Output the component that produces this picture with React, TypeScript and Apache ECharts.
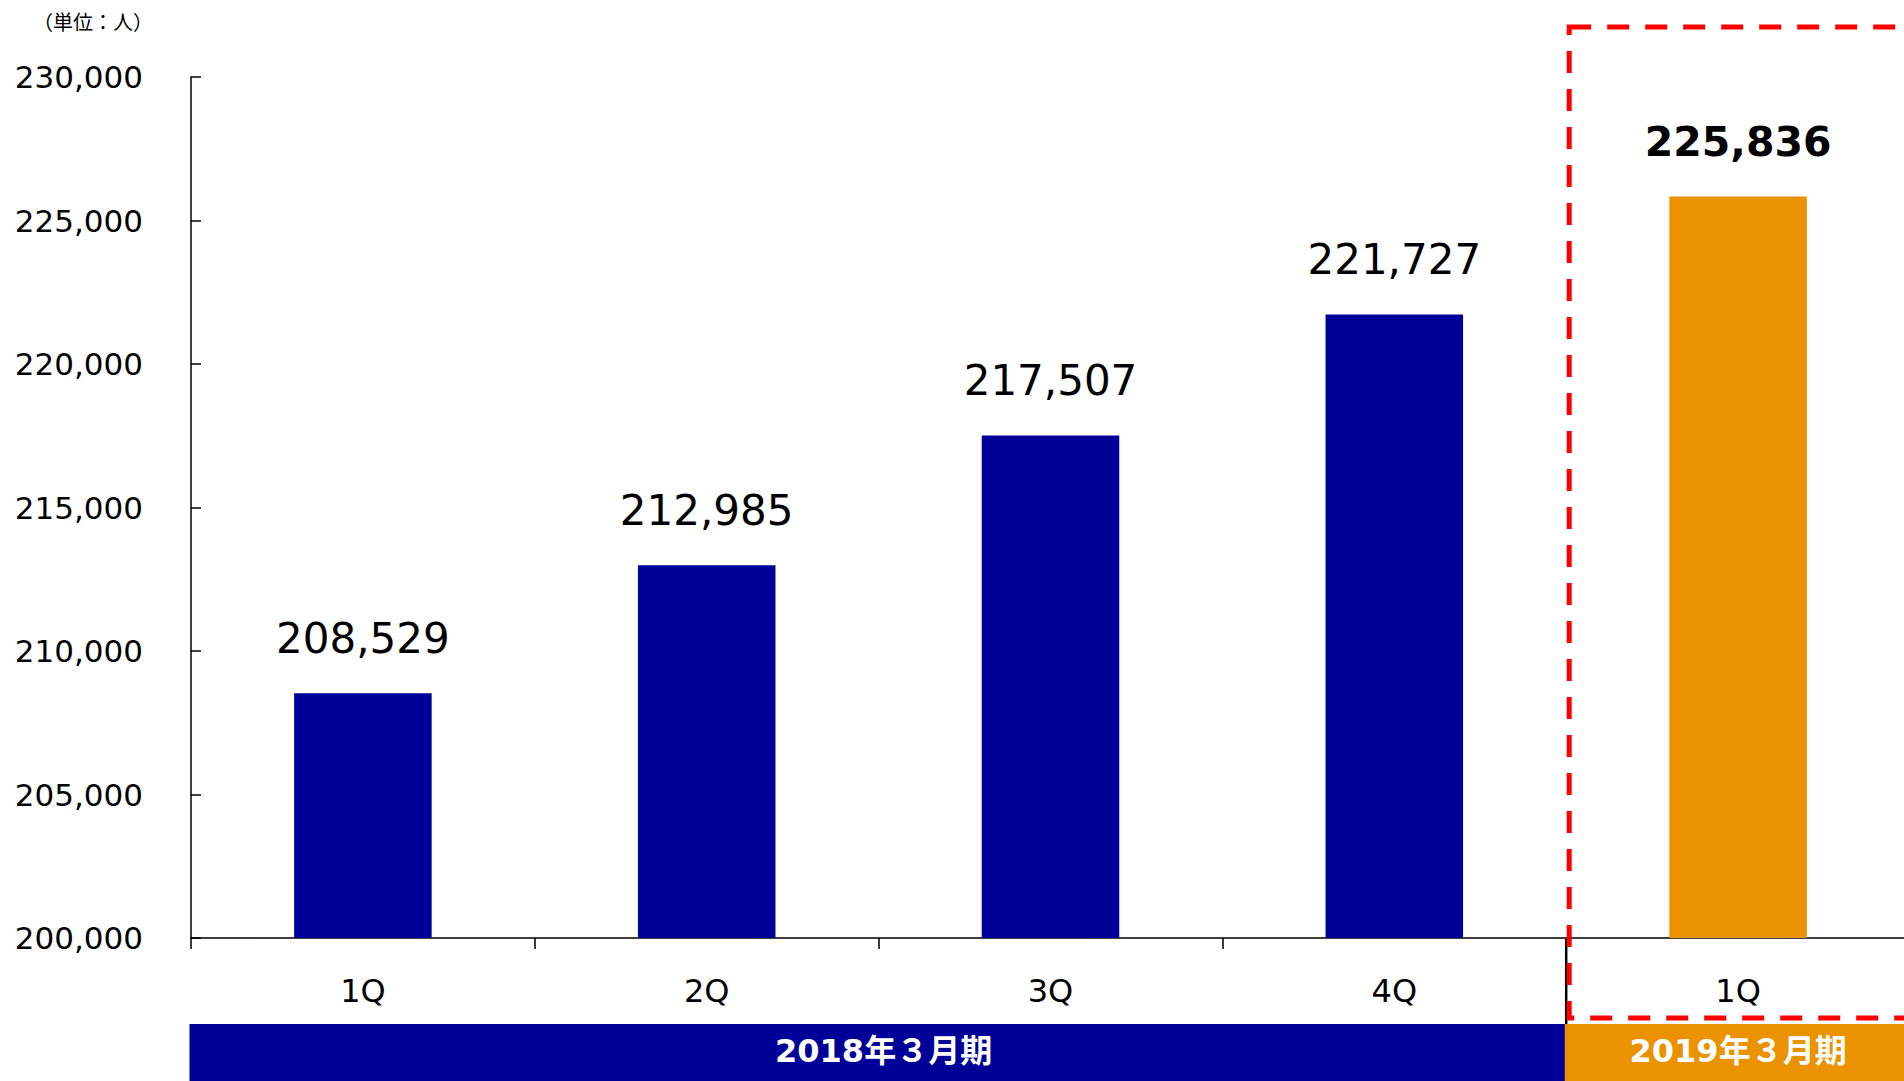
import React, { useEffect, useRef } from "react";
import * as echarts from "echarts";

const categories = ["1Q", "2Q", "3Q", "4Q", "1Q"];
const values = [208529, 212985, 217507, 221727, 225836];
const barColors = ["#000099", "#000099", "#000099", "#000099", "#EB9200"];
const highlighted = [false, false, false, false, true];
const periodLabels = ["2018年３月期", "2019年３月期"];
const periodSpans = [4, 1];
const periodColors = ["#000099", "#EB9200"];
const yMin = 200000;
const yMax = 230000;
const yInterval = 5000;
const unitLabel = "（単位：人）";

const FONT = "'DejaVu Sans', 'Noto Sans CJK JP', sans-serif";

export default function App() {
  const ref = useRef<HTMLDivElement>(null);

  useEffect(() => {
    if (!ref.current) return;
    const chart = echarts.init(ref.current, null, { renderer: "svg" });
    const option: any = {
      animation: false,
      backgroundColor: "#ffffff",
      textStyle: { fontFamily: FONT },
      grid: {
        left: 191,
        width: 1719,
        top: 77,
        bottom: 143,
        containLabel: false,
        outerBoundsMode: "none",
      },
      xAxis: {
        type: "category",
        data: categories,
        axisLine: { show: true, lineStyle: { color: "#000000", width: 1.5 } },
        axisTick: { show: true, inside: false, length: 11, lineStyle: { color: "#000000", width: 1.5 } },
        axisLabel: { color: "#000000", fontSize: 32, fontFamily: FONT, margin: 37 },
        splitLine: { show: false },
      },
      yAxis: {
        type: "value",
        min: yMin,
        max: yMax,
        interval: yInterval,
        axisLine: { show: true, lineStyle: { color: "#000000", width: 1.5 } },
        axisTick: { show: true, inside: true, length: 10, lineStyle: { color: "#000000", width: 1.5 } },
        axisLabel: {
          color: "#000000",
          fontSize: 31,
          fontFamily: FONT,
          margin: 48,
          padding: [0, 0, 9, 0],
          formatter: (v: number) => v.toLocaleString("en-US"),
        },
        splitLine: { show: false },
      },
      series: [
        {
          type: "bar",
          barWidth: "40%",
          data: values.map((v, i) => ({
            value: v,
            itemStyle: { color: barColors[i] },
            label: {
              show: true,
              position: "top",
              distance: 34,
              fontSize: highlighted[i] ? 41 : 42,
              fontWeight: highlighted[i] ? "bold" : "normal",
              color: "#000000",
              fontFamily: FONT,
              formatter: (p: any) => Number(p.value).toLocaleString("en-US"),
            },
          })),
        },
      ],
    };
    chart.setOption(option);

    const cx = (i: number) => chart.convertToPixel({ xAxisIndex: 0 }, i) as number;
    const w = cx(1) - cx(0);
    const axisY = chart.convertToPixel({ yAxisIndex: 0 }, yMin) as number;
    const bandTop = axisY + 86;
    const bandH = 1081 - bandTop;

    const graphics: any[] = [];
    let start = 0;
    periodLabels.forEach((lab, k) => {
      const end = start + periodSpans[k];
      const x0 = cx(start) - w / 2;
      const x1 = cx(end - 1) + w / 2;
      graphics.push({
        type: "rect",
        shape: { x: x0 - 1.5, y: bandTop, width: x1 - x0 + 1.5, height: bandH },
        style: { fill: periodColors[k] },
        z: 1,
      });
      graphics.push({
        type: "text",
        x: (x0 + Math.min(x1, 1904)) / 2 + (k === 0 ? 5 : 3),
        y: bandTop + bandH / 2 - 2,
        style: {
          text: lab,
          fill: "#ffffff",
          fontSize: 32,
          fontWeight: "bold",
          fontFamily: FONT,
          align: "center",
          verticalAlign: "middle",
        },
        z: 2,
      });
      start = end;
    });

    const sepX = cx(periodSpans[0]) - w / 2;
    graphics.push({
      type: "line",
      shape: { x1: sepX, y1: axisY, x2: sepX, y2: bandTop },
      style: { stroke: "#000000", lineWidth: 2.5 },
      z: 3,
    });

    graphics.push({
      type: "rect",
      shape: { x: sepX + 3, y: 27, width: 400, height: axisY + 80 - 27 },
      style: { fill: "none", stroke: "#FF0000", lineWidth: 5, lineDash: [22, 16] },
      z: 4,
    });

    graphics.push({
      type: "text",
      x: 153,
      y: 23,
      style: {
        text: unitLabel,
        fill: "#000000",
        fontSize: 20,
        fontFamily: FONT,
        align: "right",
        verticalAlign: "middle",
      },
      z: 2,
    });

    chart.setOption({ graphic: graphics });

    return () => chart.dispose();
  }, []);

  return (
    <div
      ref={ref}
      style={{ position: "fixed", left: 0, top: 0, width: 1904, height: 1081 }}
    />
  );
}
